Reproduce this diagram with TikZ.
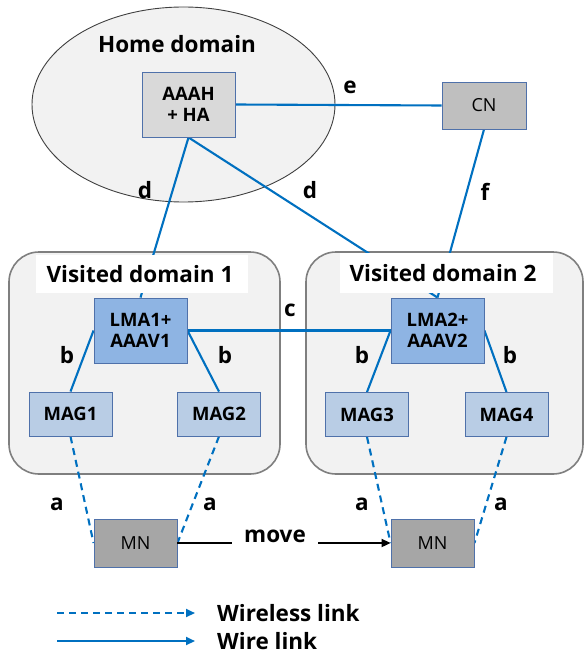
\documentclass[tikz,border=0pt]{standalone}
\usepackage{fontspec}
\setmainfont{Open Sans}
\usetikzlibrary{arrows.meta,shapes.geometric}
\definecolor{wire}{RGB}{0,112,192}
\definecolor{boxb}{RGB}{79,113,170}
\definecolor{domfill}{RGB}{242,242,242}
\definecolor{domdraw}{RGB}{127,127,127}
\definecolor{aaafill}{RGB}{217,217,217}
\definecolor{cnfill}{RGB}{191,191,191}
\definecolor{mnfill}{RGB}{166,166,166}
\definecolor{lmafill}{RGB}{142,180,227}
\definecolor{magfill}{RGB}{185,205,229}
\begin{document}
\begin{tikzpicture}[x=1pt,y=-1pt,
  bigtxt/.style={font=\fontsize{22.5}{25}\selectfont\bfseries},
  boxtxt/.style={font=\fontsize{18.5}{21.5}\selectfont\bfseries},
  plaintxt/.style={font=\fontsize{18}{21}\selectfont},
  netbox/.style={draw=boxb, line width=0.9pt, inner sep=0pt, align=center, boxtxt},
  aaabox/.style={netbox, fill=aaafill, minimum width=93pt, minimum height=65pt},
  lmabox/.style={netbox, fill=lmafill, minimum width=93pt, minimum height=65pt},
  magbox/.style={netbox, fill=magfill, minimum width=83pt, minimum height=44pt},
  cnbox/.style={netbox, plaintxt, fill=cnfill, minimum width=84pt, minimum height=47pt},
  mnbox/.style={netbox, plaintxt, fill=mnfill, minimum width=83pt, minimum height=48pt},
  dombox/.style={draw=domdraw, fill=domfill, line width=1.6pt, rounded corners=30pt},
  wireline/.style={draw=wire, line width=2.1pt},
  wless/.style={wireline, dash pattern=on 7pt off 5pt},
  lbl/.style={bigtxt, inner sep=0pt},
  tip/.style={-{Triangle[length=9pt,width=8pt]}}
]
\useasboundingbox (0,0) rectangle (585,655);
% home domain
\node[draw=black!75, fill=domfill, line width=0.9pt, ellipse, minimum width=303pt, minimum height=195pt, inner sep=0pt] (home) at (183.5,104.5) {};
\node[lbl] (hometxt) at (177,44.5) {Home domain};
% visited domains
\draw[dombox] (9,252) rectangle (280,474);
\draw[dombox] (306,252) rectangle (583,474);
% nodes (placed first for anchors)
\node[aaabox] (aaah) at (188.5,104.5) {AAAH\\+ HA};
\node[cnbox] (cn) at (484,105.5) {CN};
\node[lmabox] (lma1) at (140.5,330.5) {LMA1+\\AAAV1};
\node[lmabox] (lma2) at (437.5,330.5) {LMA2+\\AAAV2};
\node[magbox] (mag1) at (70.5,414) {MAG1};
\node[magbox] (mag2) at (219,414) {MAG2};
\node[magbox] (mag3) at (367,414.5) {MAG3};
\node[magbox] (mag4) at (506.5,414.5) {MAG4};
\node[mnbox] (mn1) at (135.5,543) {MN};
\node[mnbox] (mn2) at (432.5,543) {MN};
% wire links
\draw[wireline] (aaah.east) -- (cn.west);
\draw[wireline] (cn.south) -- (lma2.north);
\draw[wireline] (aaah.south) -- (lma1.north);
\draw[wireline] (aaah.south) -- (lma2.north);
\draw[wireline] (lma1.east) -- (lma2.west);
\draw[wireline] (lma1.west) -- (mag1.north);
\draw[wireline] (lma1.east) -- (mag2.north);
\draw[wireline] (lma2.west) -- (mag3.north);
\draw[wireline] (lma2.east) -- (mag4.north);
% wireless links
\draw[wless] (mag1.south) -- (mn1.west);
\draw[wless] (mag2.south) -- (mn1.east);
\draw[wless] (mag3.south) -- (mn2.west);
\draw[wless] (mag4.south) -- (mn2.east);
% white labels of visited domains
\node[fill=white, minimum width=212pt, minimum height=38pt, inner sep=0pt] (vd1bg) at (142,274) {};
\node[lbl] (vd1) at (140,274) {Visited domain 1};
\node[fill=white, minimum width=213pt, minimum height=40pt, inner sep=0pt] (vd2bg) at (446.5,273) {};
\node[lbl] (vd2) at (443,273) {Visited domain 2};
% redraw boxes on top
\node[aaabox] at (aaah) {AAAH\\+ HA};
\node[cnbox] at (cn) {CN};
\node[lmabox] at (lma1) {LMA1+\\AAAV1};
\node[lmabox] at (lma2) {LMA2+\\AAAV2};
\node[magbox] at (mag1) {MAG1};
\node[magbox] at (mag2) {MAG2};
\node[magbox] at (mag3) {MAG3};
\node[magbox] at (mag4) {MAG4};
\node[mnbox] at (mn1) {MN};
\node[mnbox] at (mn2) {MN};
% link labels
\node[lbl] (le) at (350,87) {e};
\node[lbl] (lf) at (485,192) {f};
\node[lbl] (ld1) at (145,190) {d};
\node[lbl] (ld2) at (310,190) {d};
\node[lbl] (lc) at (290,310) {c};
\node[lbl] (lb1) at (67,355) {b};
\node[lbl] (lb2) at (225,355) {b};
\node[lbl] (lb3) at (362,355) {b};
\node[lbl] (lb4) at (510,355) {b};
\node[lbl] (la1) at (57,504) {a};
\node[lbl] (la2) at (210,504) {a};
\node[lbl] (la3) at (362,504) {a};
\node[lbl] (la4) at (501,504) {a};
% move
\node[lbl, inner xsep=12pt] (move) at (275,536) {move};
\draw[line width=2pt] (mn1.east) -- (move.west |- mn1.east);
\draw[line width=2pt, tip] (move.east |- mn2.west) -- (mn2.west);
% legend
\coordinate (l1a) at (57,613);
\coordinate (l1b) at (195,613);
\coordinate (l2a) at (57,641);
\coordinate (l2b) at (195,641);
\draw[wless, tip] (l1a) -- (l1b);
\draw[wireline, tip] (l2a) -- (l2b);
\node[lbl, anchor=west] (wl) at (217,613) {Wireless link};
\node[lbl, anchor=west] (wr) at (217,641) {Wire link};
\end{tikzpicture}
\end{document}
